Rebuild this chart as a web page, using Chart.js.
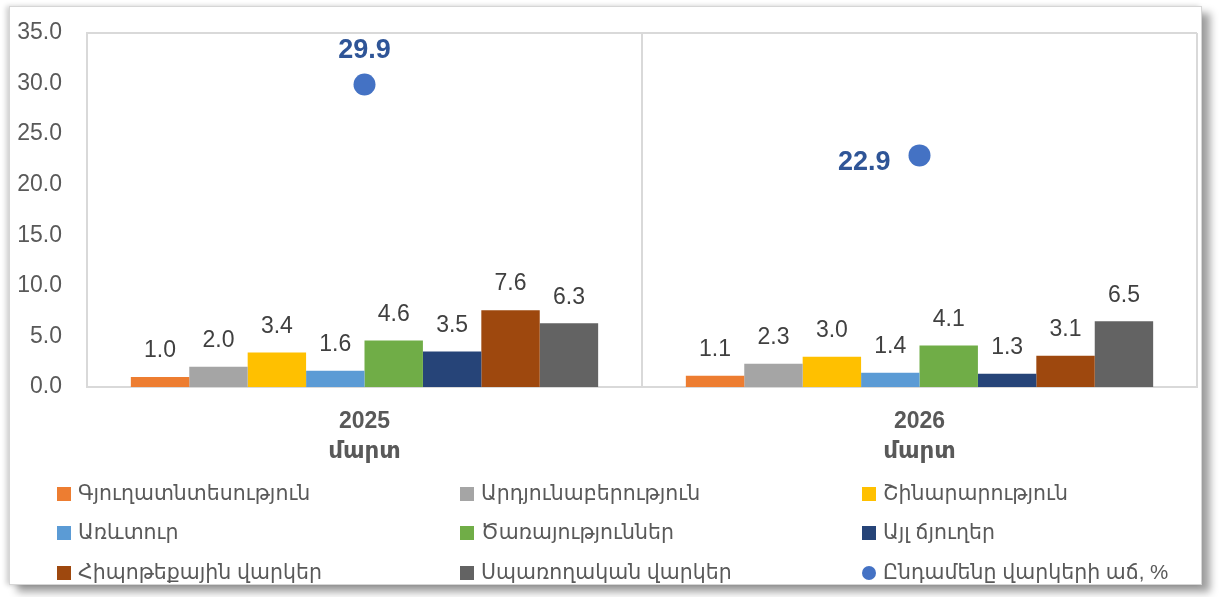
<!DOCTYPE html>
<html>
<head>
<meta charset="utf-8">
<script src="https://cdn.jsdelivr.net/npm/chart.js@4"></script>
<style>
    html, body { margin: 0; padding: 0; background: #fff; }
    #wrap { position: relative; width: 1219px; height: 597px; overflow: hidden; }
    #frame {
        position: absolute; left: 9px; top: 6px; width: 1191px; height: 577px;
        border: 1px solid #d6d6d6; background: #fff;
        box-shadow: -3px 0 5px rgba(0,0,0,0.18), 8px 7px 8px rgba(0,0,0,0.38);
    }
    #credit-chart { position: absolute; left: 0; top: 0; }
</style>
</head>
<body>
<div id="wrap">
    <div id="frame"></div>
    <canvas id="credit-chart" width="1219" height="597"></canvas>
</div>
<script>
// Categories (year + month)
const years = ['2025', '2026'];
const month = 'մարտ';

// Sector contributions, percentage points
const seriesNames = [
    'Գյուղատնտեսություն',
    'Արդյունաբերություն',
    'Շինարարություն',
    'Առևտուր',
    'Ծառայություններ',
    'Այլ ճյուղեր',
    'Հիպոթեքային վարկեր',
    'Սպառողական վարկեր'
];
const agriculture = [1.0, 1.1];
const industry = [2.0, 2.3];
const construction = [3.4, 3.0];
const trade = [1.6, 1.4];
const services = [4.6, 4.1];
const otherBranches = [3.5, 1.3];
const mortgage = [7.6, 3.1];
const consumer = [6.3, 6.5];

// Total credit growth, %
const totalGrowthName = 'Ընդամենը վարկերի աճ, %';
const totalGrowth = [29.9, 22.9];

const yTicks = [0, 5, 10, 15, 20, 25, 30, 35];

const barColors = ['#ED7D31', '#A5A5A5', '#FFC000', '#5B9BD5', '#70AD47', '#264478', '#9E480E', '#636363'];
const dotColor = '#4472C4';
const textColor = '#595959';
const FONT = "'Liberation Sans', 'DejaVu Sans', Arial, sans-serif";

const barValues = [agriculture, industry, construction, trade, services, otherBranches, mortgage, consumer];

const datasets = barValues.map((vals, i) => ({
    type: 'bar',
    label: seriesNames[i],
    data: vals,
    backgroundColor: barColors[i],
    borderWidth: 0,
    categoryPercentage: 0.842,
    barPercentage: 1,
    order: 2
}));

datasets.push({
    type: 'line',
    label: totalGrowthName,
    data: totalGrowth,
    showLine: false,
    pointRadius: 11,
    pointHoverRadius: 11,
    pointBackgroundColor: dotColor,
    pointBorderColor: dotColor,
    pointBorderWidth: 0,
    borderColor: dotColor,
    backgroundColor: dotColor,
    order: 1
});

// draws plot border, value labels and the 3-column legend
const decorPlugin = {
    id: 'decor',
    beforeDatasetsDraw(chart) {
        const { ctx, chartArea: a } = chart;
        ctx.save();
        ctx.strokeStyle = '#d9d9d9';
        ctx.lineWidth = 2;
        ctx.beginPath();
        ctx.moveTo(a.left, a.top);
        ctx.lineTo(a.right, a.top);
        ctx.stroke();
        ctx.restore();
    },
    afterDatasetsDraw(chart) {
        const { ctx } = chart;
        ctx.save();
        ctx.textBaseline = 'middle';
        chart.data.datasets.forEach((ds, di) => {
            const meta = chart.getDatasetMeta(di);
            meta.data.forEach((el, i) => {
                const v = ds.data[i].toFixed(1);
                if (ds.type === 'bar') {
                    ctx.font = `23px ${FONT}`;
                    ctx.fillStyle = '#404040';
                    ctx.textAlign = 'center';
                    ctx.fillText(v, el.x, el.y - 26);
                } else {
                    ctx.font = `bold 27px ${FONT}`;
                    ctx.fillStyle = '#2F5597';
                    if (i === 0) {
                        ctx.textAlign = 'center';
                        ctx.fillText(v, el.x, el.y - 34);
                    } else {
                        ctx.textAlign = 'right';
                        ctx.fillText(v, el.x - 29, el.y + 7);
                    }
                }
            });
        });
        ctx.restore();
    },
    afterDraw(chart) {
        const { ctx } = chart;
        const colX = [57, 460, 862];
        const rowY = [494, 533, 573];
        ctx.save();
        ctx.font = `20.5px ${FONT}`;
        ctx.textBaseline = 'middle';
        ctx.textAlign = 'left';
        chart.data.datasets.forEach((ds, i) => {
            const x = colX[i % 3];
            const y = rowY[Math.floor(i / 3)];
            ctx.fillStyle = ds.backgroundColor;
            if (ds.type === 'bar') {
                ctx.fillRect(x, y - 7, 14, 14);
            } else {
                ctx.beginPath();
                ctx.arc(x + 7, y, 7, 0, Math.PI * 2);
                ctx.fill();
            }
            ctx.fillStyle = textColor;
            ctx.fillText(ds.label, x + 21, y);
        });
        ctx.restore();
    }
};

const ctx = document.getElementById('credit-chart').getContext('2d');
new Chart(ctx, {
    data: {
        labels: years.map(y => [y, month]),
        datasets: datasets
    },
    plugins: [decorPlugin],
    options: {
        responsive: false,
        animation: false,
        layout: { padding: { top: 33, right: 22, left: 0, bottom: 0 } },
        plugins: {
            legend: { display: false },
            tooltip: { enabled: false }
        },
        scales: {
            x: {
                offset: true,
                grid: { display: true, offset: true, color: '#d9d9d9', lineWidth: 2, drawTicks: false },
                border: { display: true, color: '#d9d9d9', width: 2 },
                ticks: {
                    color: textColor,
                    padding: 20,
                    font: { family: FONT, size: 23, weight: 'bold', lineHeight: '30px' },
                    maxRotation: 0
                },
                afterFit: (scale) => { scale.height = 210; }
            },
            y: {
                min: 0,
                max: 35,
                afterBuildTicks: (scale) => { scale.ticks = yTicks.map(v => ({ value: v })); },
                grid: { display: false, drawTicks: false },
                border: { display: true, color: '#d9d9d9', width: 2 },
                ticks: {
                    color: textColor,
                    padding: 25,
                    font: { family: FONT, size: 23 },
                    callback: (v) => Number(v).toFixed(1)
                },
                afterFit: (scale) => {
                    scale.width = 87;
                    scale.paddingTop = 0;
                    scale.paddingBottom = 0;
                }
            }
        }
    }
});
</script>
</body>
</html>
